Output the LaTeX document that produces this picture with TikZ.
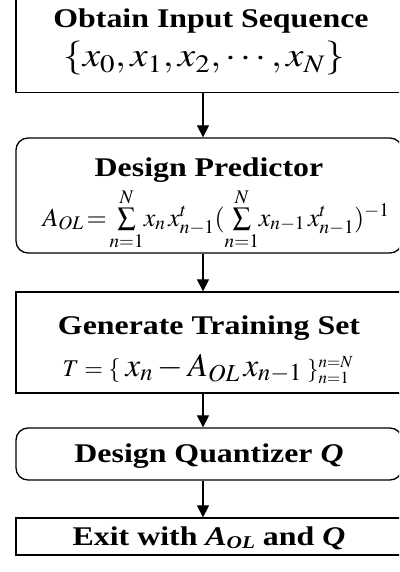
\documentclass[tikz,border=0pt]{standalone}
\usepackage{mathptmx}
\usepackage{fontspec}
\setmainfont{Liberation Serif}
\newfontfamily\ttlfont{Liberation Serif}[FakeStretch=1.18]
\usetikzlibrary{arrows.meta,positioning}

\newcommand{\ttl}{\ttlfont\fontsize{27}{30}\selectfont\bfseries}

\begin{document}
\begin{tikzpicture}[x=1pt,y=-1pt,
  blk/.style={draw,line width=1.3pt,minimum width=386pt,inner sep=0pt},
  rblk/.style={blk,rounded corners=12pt},
  txt/.style={anchor=base,inner sep=0pt},
  flow/.style={line width=1.2pt,-{Triangle[length=12pt,width=12pt]}}]
  \useasboundingbox (0,0) rectangle (399,572);
  \clip (0,0) rectangle (399,572);
  % boxes
  \node[blk,minimum height=97pt] (obtain) at (209,44) {};
  \node[rblk,minimum height=115pt] (predict) at (209,195.5) {};
  \node[blk,minimum height=101pt] (train) at (209,342.5) {};
  \node[rblk,minimum height=52pt] (quant) at (209,454) {};
  \node[blk,minimum height=37pt] (exit) at (209,536.5) {};
  % texts
  \node[txt] (obtaint) at (211,28) {\ttl Obtain Input Sequence};
  \node[txt] (obtainm) at (204,67) {\scalebox{1.15}[1]{\fontsize{34}{36}\selectfont
    $\{x_0,x_1,x_2,\cdots,x_N\}$}};
  \node[txt] (predictt) at (209,176) {\ttl Design Predictor};
  \node[txt] (predictm) at (216,226) {\fontsize{26}{29}\selectfont
    $A_{OL}\!=\!\sum\limits_{n=1}^{N}\!x_n\,x_{n-1}^{t}(\sum\limits_{n=1}^{N}\!x_{n-1}\,x_{n-1}^{t})^{-1}$};
  \node[txt] (traint) at (209,334) {\ttl Generate Training Set};
  \node[txt] (trainm) at (208,376) {{\fontsize{24}{26}\selectfont$T=\{\;$}%
    {\fontsize{33}{35}\selectfont$x_n-A_{OL}\,x_{n-1}$}%
    {\fontsize{23}{25}\selectfont$\;\}_{n=1}^{n=N}$}};
  \node[txt] (quantt) at (209,462) {\ttl Design Quantizer \textit{Q}};
  \node[txt] (exitt) at (209,545) {\ttl Exit with \textit{A}\raisebox{-3pt}{\fontsize{18}{20}\selectfont\textit{OL}} and \textit{Q}};
  % connectors
  \draw[flow] ([xshift=-6pt]obtain.south) -- ([xshift=-6pt]predict.north);
  \draw[flow] ([xshift=-6pt]predict.south) -- ([xshift=-6pt]train.north);
  \draw[flow] ([xshift=-6pt]train.south) -- ([xshift=-6pt]quant.north);
  \draw[flow] ([xshift=-6pt]quant.south) -- ([xshift=-6pt]exit.north);
\end{tikzpicture}
\end{document}
